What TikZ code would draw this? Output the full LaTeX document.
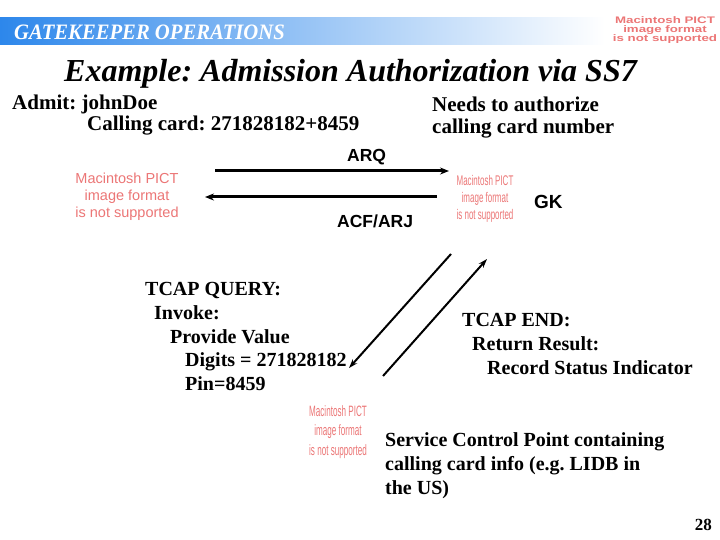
\documentclass[tikz,border=0pt]{standalone}
\usepackage{fontspec}
\setmainfont{Liberation Serif}
\newfontfamily\sansf{Liberation Sans}
\usetikzlibrary{arrows.meta}
\frenchspacing
\definecolor{hdrblue}{RGB}{45,135,235}
\definecolor{pict}{RGB}{236,118,118}
\begin{document}
\begin{tikzpicture}[x=1pt,y=-1pt,
  hdr/.style={inner sep=0pt, anchor=base west, text=white, font=\bfseries\itshape\fontsize{22}{24}\selectfont},
  ttl/.style={inner sep=0pt, anchor=base west, font=\bfseries\itshape\fontsize{32}{36}\selectfont},
  txt/.style={inner sep=0pt, anchor=base west, font=\bfseries\fontsize{21}{23}\selectfont},
  body/.style={inner sep=0pt, anchor=base west, font=\bfseries\fontsize{20}{24}\selectfont},
  lbl/.style={inner sep=0pt, anchor=base west, font=\sansf\bfseries\fontsize{17.5}{20}\selectfont},
  pictbox/.style={inner sep=0pt, anchor=center, text=pict},
  msg/.style={line width=3pt, -{Stealth[length=9pt,width=7pt]}},
  diag/.style={line width=2pt, -{Stealth[length=9pt,width=6pt]}}
]
\useasboundingbox (0,0) rectangle (720,540);
\fill[white] (0,0) rectangle (720,540);
% header band
\shade[left color=hdrblue, right color=white] (0,18) rectangle (605,45);
\node[hdr] (header) at (14,40) {\scalebox{0.94}[1]{GATEKEEPER OPERATIONS}};
\node[pictbox, font=\sansf\bfseries\fontsize{9.5}{7.5}\selectfont] (pictTop) at (665,30)
  {\scalebox{1.4}[1]{\begin{tabular}{@{}c@{}}Macintosh PICT\\image format\\is not supported\end{tabular}}};
% title
\node[ttl] (title) at (64,82) {Example: Admission Authorization via SS7};
% top texts
\node[txt] (admit) at (12,110) {Admit: johnDoe};
\node[txt] (card) at (87,131) {Calling card: 271828182+8459};
\node[txt] (needs1) at (432,112) {Needs to authorize};
\node[txt] (needs2) at (432,134) {calling card number};
% endpoints
\node[pictbox, font=\sansf\fontsize{14.5}{17}\selectfont] (pictEP) at (127,197)
  {\begin{tabular}{@{}c@{}}Macintosh PICT\\image format\\is not supported\end{tabular}};
\node[pictbox, font=\sansf\fontsize{14}{17.5}\selectfont] (pictGK) at (485,199)
  {\scalebox{0.57}[1]{\begin{tabular}{@{}c@{}}Macintosh PICT\\image format\\is not supported\end{tabular}}};
\node[lbl, font=\sansf\bfseries\fontsize{19}{22}\selectfont] (gk) at (534,209) {GK};
% RAS messages
\coordinate (arqS) at (215,171);
\coordinate (arqE) at (449,171);
\coordinate (acfS) at (437,197);
\coordinate (acfE) at (205,197);
\draw[msg] (arqS) -- (arqE);
\draw[msg] (acfS) -- (acfE);
\node[lbl] (arq) at (347,162) {ARQ};
\node[lbl] (acf) at (337,228) {ACF/ARJ};
% TCAP query
\node[body] (q1) at (145,295) {TCAP QUERY:};
\node[body] (q2) at (154,319) {Invoke:};
\node[body] (q3) at (170,343) {Provide Value};
\node[body] (q4) at (185,366) {Digits = 271828182};
\node[body] (q5) at (185,390) {Pin=8459};
% TCAP end
\node[body] (e1) at (462,326) {TCAP END:};
\node[body] (e2) at (472,350) {Return Result:};
\node[body] (e3) at (487,374) {Record Status Indicator};
% SS7 arrows
\coordinate (qS) at (451,254);
\coordinate (qE) at (349,368);
\coordinate (eS) at (383,376);
\coordinate (eE) at (487,259);
\draw[diag] (qS) -- (qE);
\draw[diag] (eS) -- (eE);
% SCP
\node[pictbox, font=\sansf\fontsize{15}{19.5}\selectfont] (pictSCP) at (338,432)
  {\scalebox{0.54}[1]{\begin{tabular}{@{}c@{}}Macintosh PICT\\image format\\is not supported\end{tabular}}};
\node[body] (s1) at (385,446) {Service Control Point containing};
\node[body] (s2) at (385,470) {calling card info (e.g. LIDB in};
\node[body] (s3) at (385,494) {the US)};
% page number
\node[inner sep=0pt, anchor=base east, font=\bfseries\fontsize{17}{20}\selectfont] (page) at (712,530) {28};
\end{tikzpicture}
\end{document}
